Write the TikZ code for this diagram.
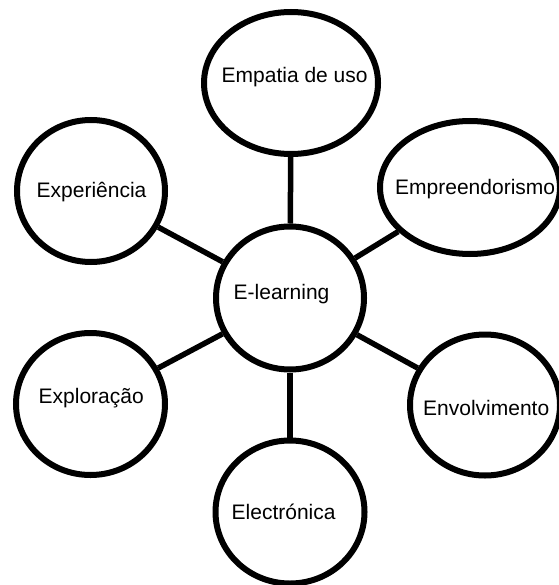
\documentclass[tikz,border=0pt]{standalone}
\usepackage{fontspec}
\setmainfont{Liberation Sans}
\usetikzlibrary{shapes.geometric}
\tikzset{
  bubble/.style 2 args={ellipse, draw, line width=6pt, fill=white, inner sep=0pt,
    minimum width=#1pt, minimum height=#2pt},
  lbl/.style={font=\fontsize{21}{25}\selectfont, inner sep=0pt, anchor=base west},
  link/.style={line width=5.5pt},
}

\begin{document}
\begin{tikzpicture}[x=1pt, y=-1pt]
    \useasboundingbox (0,0) rectangle (558,585);
    \node[bubble={148}{143}] (elearn) at (290,298) {};
    \node[bubble={174}{142}] (empatia) at (291,83) {};
    \node[bubble={180}{133}] (empreend) at (470,187.5) {};
    \node[bubble={148}{142}] (exper) at (91,191) {};
    \node[bubble={149}{142}] (explor) at (90.5,404) {};
    \node[bubble={150}{141}] (envolv) at (485,405) {};
    \node[bubble={149}{143}] (electr) at (290,512) {};
    \foreach \n in {empatia,empreend,envolv,electr,explor,exper}{
        \draw[link] (elearn) -- (\n);
    }
    \node[lbl] (elearn-t) at (233.5,299) {E-learning};
    \node[lbl] (empatia-t) at (221.5,83) {Empatia de uso};
    \node[lbl] (empreend-t) at (395,195) {Empreendorismo};
    \node[lbl] (exper-t) at (36.5,197) {Experiência};
    \node[lbl] (explor-t) at (38.5,403) {Exploração};
    \node[lbl] (envolv-t) at (423,415) {Envolvimento};
    \node[lbl] (electr-t) at (231.5,519) {Electrónica};
\end{tikzpicture}
\end{document}
